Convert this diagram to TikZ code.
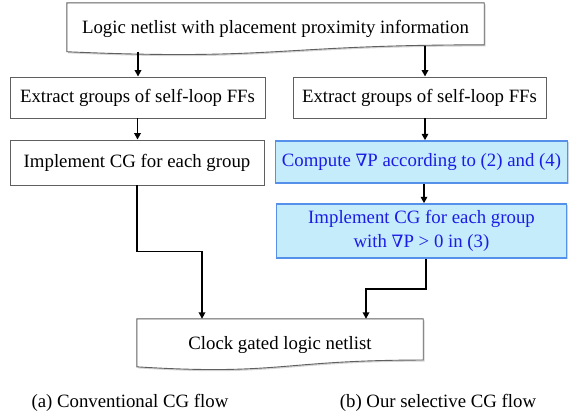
\documentclass[tikz,border=0pt]{standalone}
\usepackage{fontspec}
\setmainfont{Liberation Serif}
\newfontfamily\nablafont{DejaVu Serif}
\usetikzlibrary{arrows.meta,calc,shadows}
\pgfdeclarelayer{bg}
\pgfsetlayers{bg,main}
\definecolor{boxedge}{RGB}{95,95,95}
\definecolor{cgfill}{RGB}{196,236,251}
\definecolor{cgedge}{RGB}{85,145,235}
\definecolor{cgtext}{RGB}{28,28,228}
\tikzset{
  txt/.style={font=\fontsize{18.8}{24}\selectfont, align=center, inner sep=0pt},
  plainbox/.style={txt, draw=boxedge, line width=0.9pt, fill=white,
    drop shadow={shadow xshift=1.3pt, shadow yshift=-1.3pt, opacity=0.3}},
  cgbox/.style={txt, draw=cgedge, line width=1.5pt, fill=cgfill, text=cgtext,
    drop shadow={shadow xshift=1.3pt, shadow yshift=-1.3pt, opacity=0.35, fill=cgedge!70!gray}},
  docnode/.style={txt},
  docline/.style={draw=boxedge, line width=0.9pt, fill=white,
    drop shadow={shadow xshift=1.3pt, shadow yshift=-1.6pt, opacity=0.35}},
  flow/.style={line width=1.8pt, -{Triangle[length=6.5pt,width=6.5pt]}}
}
% document outline with a wavy lower edge, drawn behind node #1
\newcommand\docoutline[1]{%
  \begin{pgfonlayer}{bg}
  \path[docline] (#1.north west) -- (#1.north east)
    -- ($(#1.north east)!0.802!(#1.south east)$)
    .. controls ($(#1.north)!0.802!(#1.south)$) and ($(#1.north)!1.107!(#1.south)$)
    .. ($(#1.north west)!0.934!(#1.south west)$) -- cycle;
  \end{pgfonlayer}}
\newcommand\nab{{\nablafont\fontsize{17}{24}\selectfont ∇}}
\begin{document}
\begin{tikzpicture}[x=1pt,y=-1pt]
\useasboundingbox (0,0) rectangle (569,416);

% input netlist
\node[docnode, minimum width=417pt, minimum height=52pt] (top) at (275.5,29)
  {\raisebox{2pt}{Logic netlist with placement proximity information}};
\docoutline{top}

% conventional flow
\node[plainbox, minimum width=255pt, minimum height=41pt] (lext) at (137.5,97.5)
  {Extract groups of self-loop FFs};
\node[plainbox, minimum width=254pt, minimum height=45pt] (limp) at (137,162.5)
  {Implement CG for each group};

% selective flow
\node[plainbox, minimum width=253pt, minimum height=41pt] (rext) at (419.5,97.5)
  {Extract groups of self-loop FFs};
\node[cgbox, minimum width=292pt, minimum height=42pt] (cp) at (421.5,162)
  {Compute \nab P according to (2) and (4)};
\node[cgbox, minimum width=290pt, minimum height=54pt] (cimp) at (421.5,231)
  {Implement CG for each group\\with \nab P > 0 in (3)};

% output netlist
\node[docnode, minimum width=286pt, minimum height=51pt] (bot) at (280,344.5)
  {\raisebox{3pt}{Clock gated logic netlist}};
\docoutline{bot}

% captions
\node[txt] (capa) at (130,403) {(a) Conventional CG flow};
\node[txt] (capb) at (438,403) {(b) Our selective CG flow};

% connectors
\coordinate (t1) at (138,51.5);
\coordinate (t2) at (425,46);
\draw[flow] (t1) -- (t1 |- lext.north);
\draw[flow] (t2) -- (t2 |- rext.north);
\draw[flow] (lext.south) -- (lext.south |- limp.north);
\draw[flow] ([xshift=5.5pt]rext.south) -- ([xshift=5.5pt]rext.south |- cp.north);
\draw[flow] ([xshift=2.5pt]cp.south) -- ([xshift=2.5pt]cp.south |- cimp.north);
\draw[flow] (limp.south) -- ++(0,66) -| ([xshift=-78pt]bot.north);
\draw[flow] ([xshift=4.5pt]cimp.south) -- ++(0,30) -| ([xshift=86pt]bot.north);
\end{tikzpicture}
\end{document}
